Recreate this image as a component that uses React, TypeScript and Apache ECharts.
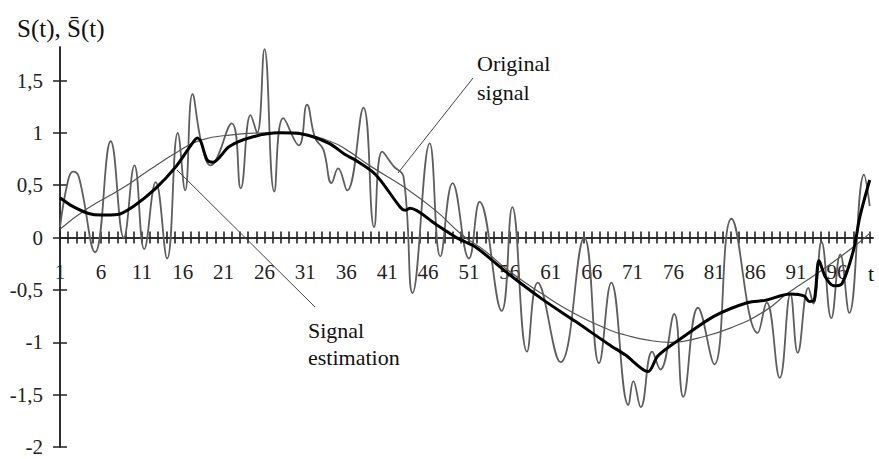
import { useEffect, useRef } from 'react';
import * as echarts from 'echarts';

// Noisy observed signal (t, value)
const noisySignal: [number, number][] = [
  [1, 0.1], [2, 0.55], [2.6, 0.63], [3.3, 0.58], [5.3, -0.14], [7.2, 0.92], [8.8, 0.0],
  [10.1, 0.69], [11.3, -0.11], [12.7, 0.53], [14.1, -0.2], [15.4, 1.0], [16.3, 0.45],
  [17.2, 1.37], [18.3, 0.9], [19.4, 0.69], [22, 1.09], [23.1, 0.47], [24.3, 1.17],
  [25.1, 1.0], [26, 1.8], [27.2, 0.44], [28.3, 1.14], [30.2, 0.88], [31.2, 1.27],
  [32.2, 0.95], [33.2, 0.84], [34.2, 0.52], [35, 0.66], [36.1, 0.45], [38.1, 1.24],
  [39.4, 0.1], [40.4, 0.82], [41.8, 0.68], [43, 0.58], [44.1, -0.53], [46.2, 0.9],
  [47.5, -0.18], [49, 0.52], [51, -0.2], [52.3, 0.34], [55, -0.7], [56.3, 0.29],
  [58.1, -1.09], [59.4, -0.43], [62.2, -1.19], [65.1, 0.0], [66.9, -1.2], [68.4, -0.43],
  [70.5, -1.6], [71.1, -1.37], [72, -1.62], [73.4, -1.09], [74.4, -1.26], [76.1, -0.73],
  [77.2, -1.52], [79, -0.67], [81, -1.21], [83.1, 0.18], [86.3, -0.91], [87.4, -0.62],
  [89, -1.34], [90.3, -0.54], [91.2, -1.1], [92.5, -0.48], [93.1, -0.63], [94.1, -0.04],
  [95.3, -0.77], [96.4, -0.16], [97.5, -0.72], [99.3, 0.6], [100, 0.3],
];

// Original (clean) signal
const originalSignal: [number, number][] = [
  [1, 0.08], [4.4, 0.28], [8.6, 0.47], [12, 0.65], [15.4, 0.82], [18.2, 0.93], [22, 0.98],
  [27, 1.0], [31, 0.98], [34, 0.92], [36, 0.84], [39, 0.68], [43.3, 0.47], [46.9, 0.26],
  [50.1, 0.03], [53, -0.13], [55.9, -0.32], [60, -0.54], [64, -0.73], [68.1, -0.88],
  [70.1, -0.93], [72.9, -0.98], [75.8, -1.0], [79, -0.96], [83.1, -0.86], [87.2, -0.7],
  [90, -0.53], [94, -0.32], [98, -0.09], [100, 0.04],
];

// Signal estimation (thick curve)
const signalEstimation: [number, number][] = [
  [1, 0.38], [2.5, 0.3], [4.5, 0.23], [6, 0.215], [8, 0.22], [10, 0.3], [12.7, 0.47],
  [15.2, 0.68], [17, 0.88], [17.8, 0.95], [18.2, 0.92], [19, 0.74], [19.7, 0.72],
  [21.7, 0.87], [24.5, 0.96], [27.8, 1.0], [30.6, 0.99], [33.9, 0.9], [35.9, 0.79],
  [37.1, 0.74], [39.6, 0.6], [42.6, 0.29], [43.2, 0.26], [43.8, 0.28], [46.9, 0.13],
  [49.7, -0.01], [51.8, -0.09], [55.9, -0.35], [60, -0.59], [64, -0.8], [68.1, -1.02],
  [70.1, -1.12], [72.9, -1.28], [74.1, -1.13], [77, -0.96], [81, -0.75], [85.1, -0.62],
  [87.2, -0.6], [90.3, -0.54], [92, -0.56], [92.6, -0.61], [93.2, -0.6], [93.8, -0.22],
  [94.6, -0.38], [95.6, -0.46], [96.6, -0.44], [98, -0.125], [98.8, 0.2], [100, 0.55],
];

const yTickValues = [-2, -1.5, -1, -0.5, 0, 0.5, 1, 1.5];
const xLabelValues = [1, 6, 11, 16, 21, 26, 31, 36, 41, 46, 51, 56, 61, 66, 71, 76, 81, 86, 91, 96];
const xTickValues = Array.from({ length: 100 }, (_, i) => i + 1);

const FONT = 'Liberation Serif, Times New Roman, DejaVu Serif, serif';
const AXIS_COLOR = '#222';

const Y_MIN = -2;
const Y_MAX = 1.82;
const GRID_TOP = 47;
const GRID_BOTTOM = 12;
const GRID_H = 459 - GRID_TOP - GRID_BOTTOM;
// move the x axis up from the grid bottom to the zero line
const X_AXIS_OFFSET = -(GRID_H * (0 - Y_MIN)) / (Y_MAX - Y_MIN);

export default function App() {
  const ref = useRef<HTMLDivElement>(null);

  useEffect(() => {
    document.body.style.margin = '0';
    const chart = echarts.init(ref.current!, null, { renderer: 'svg' });

    const xBase = {
      type: 'value' as const,
      min: 1,
      max: 100.4,
      position: 'bottom' as const,
      offset: X_AXIS_OFFSET,
      splitLine: { show: false },
      axisLine: { onZero: false, lineStyle: { color: AXIS_COLOR, width: 1.5 } },
    };
    const yBase = {
      type: 'value' as const,
      min: Y_MIN,
      max: Y_MAX,
      position: 'left' as const,
      splitLine: { show: false },
      axisLine: { show: true, onZero: false, lineStyle: { color: AXIS_COLOR, width: 1.5 } },
    };

    chart.setOption({
      animation: false,
      backgroundColor: '#fff',
      textStyle: { fontFamily: FONT },
      grid: {
        left: 60,
        right: 6,
        top: GRID_TOP,
        bottom: GRID_BOTTOM,
        containLabel: false,
        outerBoundsMode: 'none',
      },
      xAxis: [
        {
          ...xBase,
          axisTick: { show: true, customValues: xTickValues, inside: true, length: 6, lineStyle: { color: AXIS_COLOR, width: 1.6 } },
          axisLabel: {
            customValues: xLabelValues,
            margin: 24,
            color: AXIS_COLOR,
            fontFamily: FONT,
            fontSize: 21,
          },
        },
        {
          ...xBase,
          axisTick: { show: true, customValues: xTickValues, inside: false, length: 6, lineStyle: { color: AXIS_COLOR, width: 1.6 } },
          axisLabel: { show: false },
        },
      ],
      yAxis: [
        {
          ...yBase,
          axisTick: { show: true, customValues: yTickValues, inside: true, length: 7, lineStyle: { color: AXIS_COLOR, width: 1.5 } },
          axisLabel: {
            customValues: yTickValues,
            margin: 17,
            color: AXIS_COLOR,
            fontFamily: FONT,
            fontSize: 21,
            formatter: (v: number) => String(v).replace('.', ','),
          },
        },
        {
          ...yBase,
          axisTick: { show: true, customValues: yTickValues, inside: false, length: 7, lineStyle: { color: AXIS_COLOR, width: 1.5 } },
          axisLabel: { show: false },
        },
      ],
      series: [
        {
          name: 'Noisy signal',
          type: 'line',
          data: noisySignal,
          smooth: 0.45,
          symbol: 'none',
          lineStyle: { color: '#5e5e5e', width: 1.8 },
          z: 2,
        },
        {
          name: 'Original signal',
          type: 'line',
          data: originalSignal,
          smooth: 0.5,
          symbol: 'none',
          lineStyle: { color: '#555', width: 1.2 },
          z: 3,
        },
        {
          name: 'Signal estimation',
          type: 'line',
          data: signalEstimation,
          smooth: 0.3,
          symbol: 'none',
          lineStyle: { color: '#000', width: 3 },
          z: 4,
        },
      ],
      graphic: [
        {
          type: 'text',
          x: 17,
          y: 28,
          style: { text: 'S(t), S\u0304(t)', fontFamily: FONT, fontSize: 25, fill: '#111', verticalAlign: 'middle' },
        },
        {
          type: 'text',
          x: 477,
          y: 63,
          style: { text: 'Original', fontFamily: FONT, fontSize: 22, fill: '#111', verticalAlign: 'middle' },
        },
        {
          type: 'text',
          x: 477,
          y: 92,
          style: { text: 'signal', fontFamily: FONT, fontSize: 22, fill: '#111', verticalAlign: 'middle' },
        },
        {
          type: 'line',
          shape: { x1: 473, y1: 78, x2: 398, y2: 173 },
          style: { stroke: '#444', lineWidth: 1 },
          z: 10,
        },
        {
          type: 'text',
          x: 308,
          y: 330,
          style: { text: 'Signal', fontFamily: FONT, fontSize: 22, fill: '#111', verticalAlign: 'middle' },
        },
        {
          type: 'text',
          x: 308,
          y: 357,
          style: { text: 'estimation', fontFamily: FONT, fontSize: 22, fill: '#111', verticalAlign: 'middle' },
        },
        {
          type: 'line',
          shape: { x1: 177, y1: 170, x2: 315, y2: 307 },
          style: { stroke: '#444', lineWidth: 1 },
          z: 10,
        },
        {
          type: 'text',
          x: 868,
          y: 273,
          style: { text: 't', fontFamily: FONT, fontSize: 22, fill: '#111', verticalAlign: 'middle' },
        },
      ],
    });

    return () => chart.dispose();
  }, []);

  return <div ref={ref} style={{ width: 879, height: 459 }} />;
}
